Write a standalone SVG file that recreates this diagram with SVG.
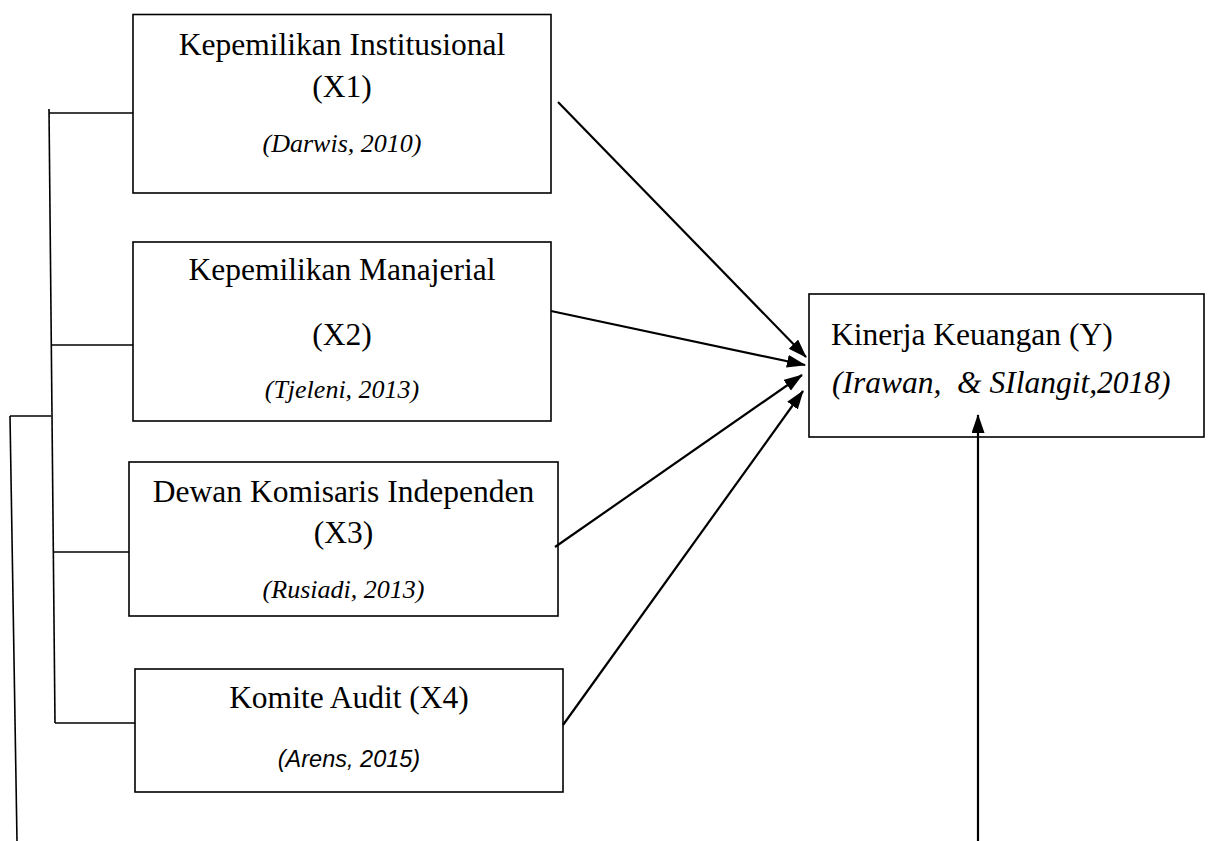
<svg xmlns="http://www.w3.org/2000/svg" width="1208" height="841" viewBox="0 0 1208 841">
<style>
.box{fill:#fff;stroke:#000;stroke-width:1.6}
.t{font-family:"Liberation Serif","Times New Roman",serif;font-size:31.5px;fill:#000}
.c{text-anchor:middle}
.i{font-family:"Liberation Serif","Times New Roman",serif;font-style:italic;font-size:26px;fill:#000}
.si{font-family:"Liberation Sans",Arial,sans-serif;font-style:italic;font-size:23.5px;fill:#000}
.ln{stroke:#000;stroke-width:1.6;fill:none}
.ar{stroke:#000;stroke-width:2.2;fill:none;marker-end:url(#ah)}
</style>
<defs>
<marker id="ah" markerUnits="userSpaceOnUse" markerWidth="20" markerHeight="14" refX="18" refY="6.5" orient="auto">
<path d="M0,0 L19,6.5 L0,13 Z" fill="#000"/>
</marker>
</defs>
<rect width="1208" height="841" fill="#fff"/>
<g id="x1">
<rect class="box" x="133" y="14.5" width="418" height="178.5"/>
<text class="t c" x="342" y="55">Kepemilikan Institusional</text>
<text class="t c" x="342" y="97">(X1)</text>
<text class="i c" x="342" y="152">(Darwis, 2010)</text>
</g>
<g id="x2">
<rect class="box" x="133" y="242" width="418" height="179"/>
<text class="t c" x="342" y="280">Kepemilikan Manajerial</text>
<text class="t c" x="342" y="345">(X2)</text>
<text class="i c" x="342" y="398">(Tjeleni, 2013)</text>
</g>
<g id="x3">
<rect class="box" x="129" y="462" width="429" height="154"/>
<text class="t c" x="343.5" y="502">Dewan Komisaris Independen</text>
<text class="t c" x="343.5" y="543">(X3)</text>
<text class="i c" x="343.5" y="598">(Rusiadi, 2013)</text>
</g>
<g id="x4">
<rect class="box" x="135" y="669" width="428" height="123"/>
<text class="t c" x="349" y="708">Komite Audit (X4)</text>
<text class="si c" x="349" y="767">(Arens, 2015)</text>
</g>
<g id="y">
<rect class="box" x="809" y="294" width="395" height="143"/>
<text class="t" x="831" y="345">Kinerja Keuangan (Y)</text>
<text class="t" x="832" y="393" font-style="italic" xml:space="preserve">(Irawan,  &amp; SIlangit,2018)</text>
</g>
<g id="connectors">
<line class="ln" x1="49" y1="109" x2="55" y2="723"/>
<line class="ln" x1="49" y1="113" x2="133" y2="113"/>
<line class="ln" x1="51" y1="345" x2="133" y2="345"/>
<line class="ln" x1="53" y1="552" x2="129" y2="552"/>
<line class="ln" x1="55" y1="723" x2="135" y2="723"/>
<line class="ln" x1="10" y1="416" x2="51" y2="416"/>
<line class="ln" x1="10" y1="416" x2="17" y2="841"/>
<line class="ar" x1="558" y1="102" x2="806" y2="357"/>
<line class="ar" x1="551" y1="311" x2="805" y2="365"/>
<line class="ar" x1="555" y1="547" x2="802" y2="375"/>
<line class="ar" x1="563" y1="725" x2="803" y2="391"/>
<line class="ar" x1="978" y1="841" x2="978" y2="415"/>
</g>
</svg>
